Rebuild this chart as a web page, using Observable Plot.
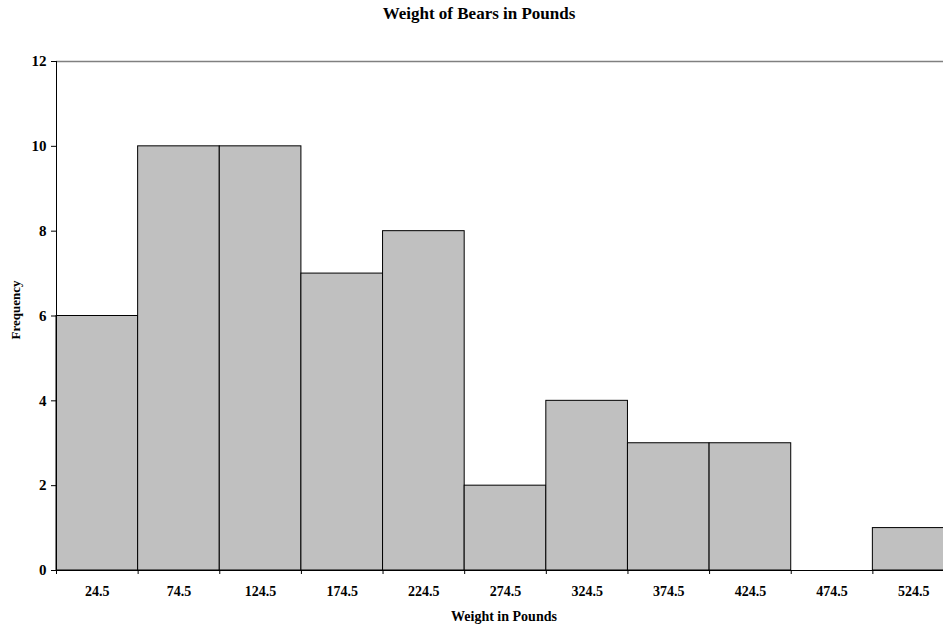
<!DOCTYPE html>
<html>
<head>
<meta charset="utf-8">
<script src="https://cdn.jsdelivr.net/npm/d3@7"></script>
<script src="https://cdn.jsdelivr.net/npm/@observablehq/plot@0.6"></script>
<style>
  body { margin: 0; background: white; font-family: "Liberation Serif", "Times New Roman", serif; }
  #title { height: 28px; line-height: 28px; text-align: center; font-weight: bold; font-size: 17px; padding-left: 15px; }
  #chart svg { overflow: hidden; }
</style>
</head>
<body>
<div id="title">Weight of Bears in Pounds</div>
<div id="chart"></div>
<script>
// Class midpoints (pounds) and the number of bears in each class
const classMidpoints = [24.5, 74.5, 124.5, 174.5, 224.5, 274.5, 324.5, 374.5, 424.5, 474.5, 524.5];
const frequencies = [6, 10, 10, 7, 8, 2, 4, 3, 3, 0, 1];
const classWidth = 50;
const yTicks = [0, 2, 4, 6, 8, 10, 12];

const bins = classMidpoints.map((m, i) => ({
  x1: m - classWidth / 2,
  x2: m + classWidth / 2,
  freq: frequencies[i]
}));
const edges = [bins[0].x1, ...bins.map(b => b.x2)];

const plot = Plot.plot({
  width: 943,
  height: 597,
  marginTop: 33,
  marginBottom: 55,
  marginLeft: 56,
  marginRight: 0,
  style: { fontFamily: "Liberation Serif, Times New Roman, serif", fontSize: "14px", fontWeight: "bold", background: "white" },
  x: { domain: [edges[0], edges[edges.length - 1]], range: [56, 954] },
  y: { domain: [0, 12] },
  marks: [
    Plot.ruleY([12], { stroke: "#808080", strokeWidth: 1.5 }),
    Plot.rectY(bins, { x1: "x1", x2: "x2", y: "freq", fill: "#c0c0c0", stroke: "black", strokeWidth: 1 }),
    Plot.ruleY([0], { stroke: "black" }),
    Plot.ruleX([edges[0]], { y1: 0, y2: 12, stroke: "black" }),
    Plot.axisY({ ticks: yTicks, tickSize: 5, tickPadding: 5, label: null, fontWeight: "bold", fontSize: 15, stroke: "black" }),
    Plot.axisX(edges, { tickSize: 4, tickFormat: () => "", label: null, stroke: "black" }),
    Plot.axisX(classMidpoints, { tickSize: 0, tickPadding: 16, tickFormat: d => d.toFixed(1), label: null, fontWeight: "bold", fontSize: 14 }),
    Plot.text(["Weight in Pounds"], { frameAnchor: "bottom", lineAnchor: "middle", textAnchor: "middle", dx: 4, dy: 46, fontWeight: "bold", fontSize: 14 }),
    Plot.text(["Frequency"], { frameAnchor: "left", lineAnchor: "middle", textAnchor: "middle", rotate: -90, dx: -41, dy: -6, fontWeight: "bold", fontSize: 13 })
  ]
});
document.getElementById("chart").append(plot);
</script>
</body>
</html>
